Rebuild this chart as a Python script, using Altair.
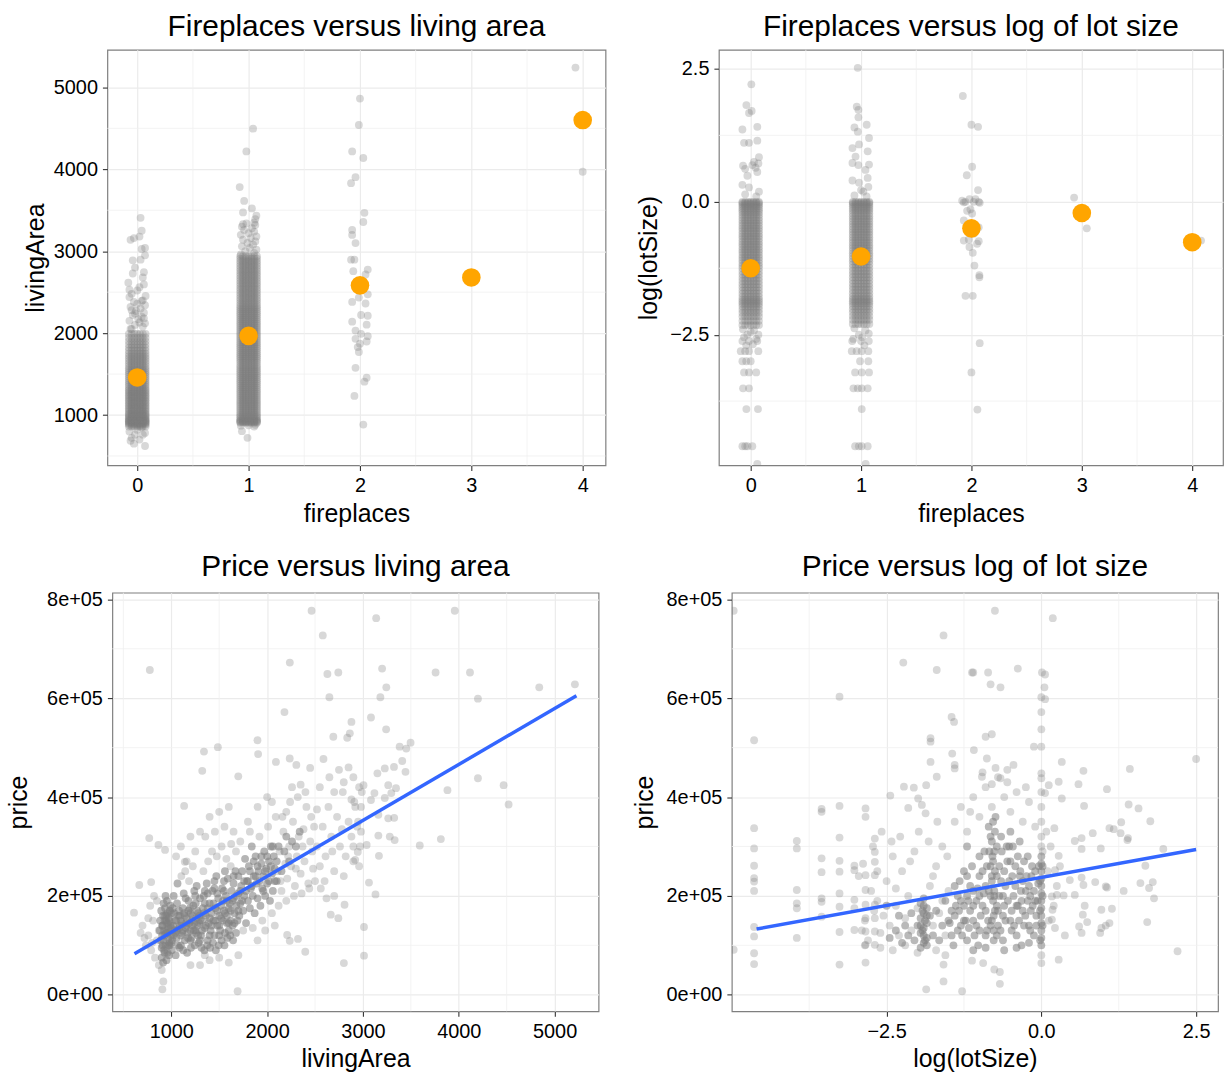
import altair as alt
import pandas as pd

FONT = "Liberation Sans"
GRAY = "#7f7f7f"
ORANGE = "#FFA500"
BLUE = "#3366FF"

# ---------------- tick / grid values ----------------
FP_TICKS = [0, 1, 2, 3, 4]
FP_MINOR = [0.5, 1.5, 2.5, 3.5]
AREA_TICKS = [1000, 2000, 3000, 4000, 5000]
AREA_MINOR = [500, 1500, 2500, 3500, 4500]
LOT_TICKS = [-2.5, 0.0, 2.5]
LOT_MINOR = [-3.75, -1.25, 1.25]
PRICE_TICKS = [0, 200000, 400000, 600000, 800000]
PRICE_MINOR = [100000, 300000, 500000, 700000]

# jitter positions used for the dense columns
BAND_OFFSETS = [-0.075, -0.05, -0.025, 0.0, 0.025, 0.05, 0.075]

# ---------------- Panel A: fireplaces vs living area ----------------
area_core_fp0 = [860, 880, 895, 905, 915, 925, 935, 945, 960, 975, 990, 1005, 1020, 1040,
                 1060, 1080, 1100, 1120, 1140, 1160, 1180, 1200, 1220, 1240, 1260, 1280,
                 1300, 1320, 1345, 1370, 1395, 1420, 1445, 1470, 1495, 1520, 1545, 1570,
                 1600, 1630, 1660, 1690, 1720, 1750, 1785, 1820, 1860, 1900, 1945, 1990]
area_core_fp1 = [905, 915, 925, 935, 950, 970, 990, 1010, 1035, 1060, 1085, 1110, 1135, 1160,
                 1185, 1210, 1235, 1260, 1285, 1310, 1335, 1360, 1385, 1410, 1435, 1460,
                 1485, 1510, 1535, 1560, 1585, 1610, 1640, 1665, 1690, 1715, 1740, 1765,
                 1790, 1815, 1840, 1865, 1890, 1915, 1940, 1965, 1990, 2015, 2040, 2065,
                 2090, 2115, 2140, 2165, 2190, 2215, 2240, 2265, 2290, 2315, 2340, 2370,
                 2400, 2430, 2460, 2490, 2520, 2550, 2580, 2610, 2640, 2670, 2700, 2730,
                 2760, 2790, 2820, 2850, 2880, 2910, 2940]
# (jitter offset, living area)
area_pts_fp0 = [(-0.06, 2050), (0.05, 2080), (-0.02, 2100), (0.07, 2120), (-0.07, 2150),
                (0.01, 2170), (0.04, 2200), (-0.04, 2220), (0.06, 2250), (-0.01, 2270),
                (0.03, 2300), (-0.06, 2320), (0.07, 2340), (0.0, 2360), (-0.03, 2380),
                (0.05, 2400), (-0.07, 2440), (0.04, 2393), (0.075, 2454), (-0.05, 2050),
                (0.02, 2130), (-0.05, 2280), (0.06, 2180), (-0.02, 2240),
                (0.03, 3408), (0.04, 3251), (-0.06, 3139), (-0.03, 3160), (0.02, 3179),
                (0.07, 3039), (0.04, 3027), (-0.04, 2889), (0.03, 2897), (0.06, 2744),
                (-0.04, 2728), (-0.08, 2616), (0.06, 2595), (-0.07, 2530), (0.02, 2560),
                (0.05, 2680), (-0.02, 2800), (0.07, 2950), (-0.05, 2480), (0.0, 2520),
                (-0.05, 722), (0.07, 782), (0.07, 622), (-0.06, 686), (-0.03, 650),
                (0.02, 700), (0.05, 760), (-0.07, 800), (0.0, 820), (0.04, 850), (-0.02, 760)]
area_pts_fp1 = [(-0.07, 2960), (0.05, 2980), (-0.03, 3000), (0.07, 3020), (0.01, 3040),
                (-0.06, 3060), (0.04, 3080), (-0.01, 3100), (0.06, 3120), (-0.05, 3140),
                (0.02, 3160), (0.07, 3180), (-0.07, 3200), (0.0, 3220), (0.05, 3240),
                (-0.04, 3260), (0.03, 3280), (-0.06, 3300), (0.06, 3320), (-0.02, 3340),
                (-0.05, 3329), (0.05, 3348),
                (0.04, 4496), (-0.02, 4218), (-0.08, 3783), (-0.04, 3614), (0.03, 3522),
                (-0.05, 3474), (0.07, 3433), (0.06, 3390),
                (-0.06, 803), (-0.01, 722), (0.06, 880), (-0.07, 870), (0.05, 860), (0.0, 875)]
area_pts_fp2 = [(0.0, 4863), (-0.01, 4541), (-0.07, 4218), (0.03, 4138), (-0.04, 3904),
                (-0.08, 3831), (0.04, 3469), (0.03, 3357), (-0.07, 3260), (-0.07, 3199),
                (-0.04, 3099), (-0.08, 2897), (-0.05, 2897), (-0.06, 2756), (0.07, 2776),
                (0.05, 2716), (0.0, 2570), (0.07, 2474), (0.05, 2362), (-0.07, 2381),
                (-0.01, 2434), (0.01, 2221), (0.07, 2212), (-0.07, 2140), (0.06, 2103),
                (-0.04, 2031), (0.01, 1991), (0.07, 1963), (-0.04, 1930), (0.06, 1898),
                (0.0, 1870), (-0.01, 1770), (-0.02, 1830), (-0.04, 1576), (0.06, 1455),
                (0.04, 1407), (-0.05, 1233), (0.03, 883)]
area_pts_fp3 = [(0.0, 2650), (0.01, 2710)]
area_pts_fp4 = [(-0.065, 5242), (0.0, 3970)]
area_means = [1459, 1967, 2583, 2680, 4601]

# ---------------- Panel B: fireplaces vs log(lotSize) ----------------
lot_core_fp0 = [0.0, -0.02, -0.05, -0.08, -0.12, -0.16, -0.2, -0.25, -0.3, -0.35, -0.4,
                -0.45, -0.5, -0.55, -0.6, -0.65, -0.7, -0.75, -0.8, -0.85, -0.9, -0.95,
                -1.0, -1.05, -1.1, -1.15, -1.2, -1.25, -1.31, -1.37, -1.43, -1.49, -1.55,
                -1.61, -1.67, -1.73, -1.79, -1.84, -1.88, -1.92, -1.97, -2.03, -2.09,
                -2.16, -2.24, -2.32]
lot_core_fp1 = [0.0, -0.02, -0.05, -0.09, -0.13, -0.17, -0.22, -0.27, -0.32, -0.37, -0.42,
                -0.47, -0.52, -0.57, -0.62, -0.67, -0.72, -0.77, -0.82, -0.87, -0.92,
                -0.97, -1.02, -1.07, -1.12, -1.18, -1.24, -1.3, -1.36, -1.42, -1.48,
                -1.54, -1.6, -1.66, -1.72, -1.78, -1.83, -1.87, -1.91, -1.96, -2.02,
                -2.08, -2.15, -2.22, -2.3]
lot_pts_fp0 = [(0.006, 2.21), (-0.039, 1.82), (0.009, 1.71), (-0.015, 1.67), (0.06, 1.41),
               (-0.075, 1.36), (-0.06, 1.11), (-0.015, 1.11), (0.06, 1.15), (0.075, 0.84),
               (-0.069, 0.68), (0.015, 0.69), (0.045, 0.64), (-0.03, 0.49), (0.06, 0.56),
               (-0.075, 0.32), (-0.015, 0.27), (0.075, 0.19), (0.07, 0.72), (-0.05, 0.62),
               (0.03, 0.75), (0.05, 0.1), (-0.05, 0.14),
               (-0.07, -2.4), (0.03, -2.42), (0.07, -2.5), (-0.03, -2.5), (0.0, -2.45),
               (-0.06, -2.55), (0.05, -2.58), (-0.075, -2.62), (-0.015, -2.62), (0.06, -2.62),
               (-0.04, -2.7), (0.02, -2.68), (-0.09, -2.81), (-0.015, -2.81), (0.069, -2.81),
               (-0.05, -2.81), (-0.075, -3.0), (0.0, -3.0), (-0.04, -3.0), (-0.06, -3.21),
               (-0.015, -3.21), (0.05, -3.21), (-0.069, -3.51), (-0.015, -3.51),
               (-0.039, -3.9), (0.066, -3.9), (-0.075, -4.6), (-0.03, -4.6), (0.015, -4.6),
               (-0.05, -4.6), (0.06, -4.93)]
lot_pts_fp1 = [(-0.03, 2.52), (-0.039, 1.79), (-0.024, 1.73), (-0.024, 1.59), (0.051, 1.45),
               (-0.06, 1.40), (-0.03, 1.32), (0.072, 1.20), (-0.078, 1.01), (-0.018, 1.08),
               (0.06, 0.95), (-0.078, 0.73), (-0.024, 0.69), (0.072, 0.70), (-0.078, 0.40),
               (-0.018, 0.36), (0.066, 0.28), (0.021, 0.19), (0.05, 0.1), (-0.06, 0.12),
               (0.0, 0.22), (0.04, 0.6), (-0.05, 0.85), (0.06, 0.45),
               (-0.06, -2.38), (0.04, -2.42), (0.07, -2.48), (-0.02, -2.5), (0.01, -2.55),
               (-0.07, -2.58), (-0.08, -2.62), (0.0, -2.62), (0.07, -2.62), (0.03, -2.7),
               (-0.084, -2.81), (0.006, -2.81), (0.066, -2.81), (-0.04, -2.81),
               (-0.009, -3.0), (0.066, -3.0), (-0.054, -3.21), (0.006, -3.21), (0.072, -3.21),
               (-0.069, -3.51), (0.006, -3.51), (0.06, -3.51), (-0.03, -3.51), (0.006, -3.9),
               (-0.054, -4.6), (0.006, -4.6), (0.06, -4.6), (-0.02, -4.6), (0.042, -4.93)]
lot_pts_fp2 = [(-0.078, 1.99), (0.0, 1.45), (0.06, 1.41), (0.006, 0.66), (-0.042, 0.50),
               (0.06, 0.22), (-0.084, 0.02), (-0.054, 0.0), (-0.018, 0.05), (0.021, 0.0),
               (0.066, 0.0), (0.075, -0.02), (0.036, 0.05), (-0.069, -0.01), (-0.039, -0.17),
               (0.006, -0.22), (-0.009, -0.14), (-0.069, -0.35), (0.066, -0.48), (0.0, -0.5),
               (0.02, -0.6), (-0.069, -0.73), (-0.024, -0.71), (0.066, -0.74), (0.051, -0.79),
               (-0.018, -0.85), (0.012, -0.96), (0.027, -1.20), (0.072, -1.38), (0.072, -1.42),
               (-0.054, -1.77), (0.012, -1.77), (0.075, -2.66), (0.0, -3.21), (0.054, -3.91)]
lot_pts_fp3 = [(-0.07, 0.08), (0.045, -0.50)]
lot_pts_fp4 = [(0.08, -0.73), (0.0, -0.79)]
lot_means = [-1.25, -1.03, -0.50, -0.21, -0.76]

# ---------------- Panel C: price vs living area ----------------
# (living area, price in thousands)
pa_core = [(900, 95), (905, 120), (910, 140), (915, 160), (920, 110), (925, 130), (930, 150),
           (935, 175), (940, 100), (945, 125), (950, 145), (955, 190), (960, 85), (965, 115),
           (970, 135), (975, 155), (980, 105), (985, 170), (990, 140), (995, 120), (900, 75),
           (915, 65), (930, 85), (950, 70), (975, 80), (920, 185), (940, 200), (960, 165),
           (880, 130), (885, 150), (890, 110), (895, 170), (905, 140), (910, 100), (925, 90),
           (935, 160), (945, 150), (955, 130), (965, 145), (985, 100),
           (1010, 110), (1020, 140), (1030, 165), (1040, 125), (1050, 150), (1060, 185),
           (1070, 100), (1080, 135), (1090, 160), (1100, 120), (1110, 145), (1120, 175),
           (1130, 205), (1140, 110), (1150, 135), (1160, 155), (1170, 125), (1180, 190),
           (1190, 145), (1200, 165), (1210, 115), (1220, 140), (1230, 180), (1240, 210),
           (1250, 130), (1260, 155), (1270, 170), (1280, 120), (1290, 145), (1300, 195),
           (1005, 90), (1025, 200), (1045, 80), (1065, 225), (1085, 95), (1125, 90),
           (1165, 85), (1205, 95), (1245, 100), (1265, 220), (1285, 105), (1015, 175),
           (1035, 130), (1055, 115), (1075, 160), (1095, 140), (1115, 125), (1135, 165),
           (1155, 145), (1175, 115), (1195, 175), (1215, 150), (1235, 130), (1255, 185),
           (1275, 140), (1295, 160),
           (1310, 120), (1320, 150), (1330, 175), (1340, 200), (1350, 135), (1360, 160),
           (1370, 225), (1380, 110), (1390, 145), (1400, 185), (1410, 130), (1420, 165),
           (1430, 210), (1440, 150), (1450, 120), (1460, 175), (1470, 240), (1480, 140),
           (1490, 195), (1500, 160), (1510, 130), (1520, 180), (1530, 215), (1540, 150),
           (1550, 170), (1560, 125), (1570, 200), (1580, 160), (1590, 235), (1600, 145),
           (1610, 185), (1620, 170), (1630, 210), (1640, 140), (1650, 195), (1660, 165),
           (1670, 250), (1680, 180), (1690, 150), (1700, 205), (1315, 95), (1345, 90),
           (1375, 100), (1405, 95), (1435, 105), (1465, 90), (1495, 100), (1525, 110),
           (1555, 100), (1585, 115), (1615, 120), (1645, 110), (1675, 125), (1450, 215),
           (1350, 185), (1550, 230), (1650, 225), (1700, 240), (1560, 250), (1380, 205),
           (1480, 205), (1580, 190),
           (1710, 160), (1720, 185), (1730, 220), (1740, 250), (1750, 170), (1760, 200),
           (1770, 275), (1780, 145), (1790, 230), (1800, 190), (1810, 260), (1820, 175),
           (1830, 215), (1840, 300), (1850, 200), (1860, 240), (1870, 165), (1880, 280),
           (1890, 225), (1900, 195), (1910, 250), (1930, 180), (1940, 265), (1950, 215),
           (1960, 240), (1970, 290), (1980, 200), (1990, 255), (2000, 225), (2020, 270),
           (2030, 190), (2040, 300), (2050, 245), (2060, 210), (2070, 280), (2080, 255),
           (2100, 230),
           (960, 125), (980, 150), (1000, 135), (1000, 165), (1020, 120), (1040, 150),
           (1060, 130), (1080, 170), (1100, 150), (1120, 130), (1140, 160), (1160, 140),
           (1180, 170), (1200, 130), (1220, 160), (1240, 145), (1260, 125), (1280, 165),
           (1300, 150), (1320, 130), (1340, 165), (1360, 140), (1380, 175), (1400, 155),
           (1420, 140), (1440, 185), (1460, 150), (1480, 170), (1500, 140), (1520, 155),
           (1540, 190), (1560, 165), (1580, 145), (1600, 175), (1620, 150), (1640, 190),
           (1660, 145), (1680, 200), (1700, 170), (1720, 210), (1740, 190), (1760, 230),
           (1780, 210), (1800, 230), (1820, 250), (1840, 220), (1860, 270), (1880, 240),
           (1900, 260), (1920, 230), (1940, 280), (1960, 210), (1980, 250), (2000, 280),
           (2020, 230), (2040, 260), (2060, 300), (2080, 230), (2100, 270), (2120, 300),
           (2150, 250), (2180, 290), (2200, 320), (2230, 270), (2260, 310), (2300, 300),
           (2340, 330), (1000, 105), (1100, 100), (1200, 110), (1300, 110), (1400, 120),
           (1500, 120), (1600, 130), (930, 120), (950, 160), (970, 100), (990, 180),
           (1150, 195), (1250, 200), (1350, 210), (1450, 230), (1550, 210), (1650, 240)]
pa_pts = [(700, 140), (735, 100), (760, 120), (790, 90), (810, 150), (830, 75), (850, 110),
          (870, 130), (720, 115), (680, 125), (760, 155), (800, 105), (611, 166), (666, 222),
          (790, 228), (776, 657), (770, 317), (866, 303), (935, 293), (900, 50), (917, 27),
          (907, 11), (850, 190), (820, 200), (870, 60), (780, 180),
          (1105, 240), (1145, 250), (1185, 230), (1225, 260), (1141, 269), (1050, 280),
          (1100, 300), (1160, 270), (1200, 320), (1250, 290), (1300, 330), (1335, 250),
          (1385, 270), (1425, 290), (1475, 280), (1525, 300), (1575, 275), (1625, 305),
          (1675, 290), (1355, 320), (1455, 330), (1555, 340), (1650, 330), (1400, 360),
          (1500, 370), (1600, 380), (1620, 260), (1134, 382), (1486, 501), (1341, 492),
          (1323, 453), (1699, 442), (1400, 70), (1500, 75), (1600, 65), (1700, 80),
          (1300, 60), (1200, 60), (1350, 80), (1692, 7),
          (1750, 130), (1850, 135), (1950, 150), (2050, 165), (1800, 350), (1900, 380),
          (2000, 400), (1720, 310), (1820, 330), (1980, 130), (2080, 140), (1900, 110),
          (2050, 390), (1920, 320), (2010, 340), (2090, 360), (1899, 515), (1906, 487),
          (2110, 250), (2130, 290), (2150, 210), (2170, 330), (2190, 265), (2210, 235),
          (2230, 300), (2250, 260), (2270, 350), (2290, 220), (2310, 280), (2330, 320),
          (2350, 245), (2370, 300), (2390, 270), (2410, 380), (2430, 225), (2450, 310),
          (2470, 290), (2490, 340), (2120, 180), (2200, 190), (2280, 200), (2360, 205),
          (2440, 215), (2160, 360), (2240, 390), (2320, 400), (2400, 410), (2480, 255),
          (2140, 230), (2220, 280), (2300, 255), (2380, 335), (2460, 360), (2500, 230),
          (2260, 420), (2350, 425), (2200, 370),
          (2520, 300), (2550, 260), (2580, 340), (2610, 280), (2640, 380), (2670, 320),
          (2700, 250), (2730, 360), (2760, 300), (2790, 410), (2820, 280), (2850, 350),
          (2880, 320), (2910, 390), (2940, 340), (2970, 300), (2550, 420), (2650, 440),
          (2750, 455), (2850, 460), (2600, 230), (2700, 200), (2800, 240), (2900, 270),
          (2620, 195), (2560, 215), (2680, 290), (2780, 335), (2880, 395), (2980, 380),
          (2520, 375), (2960, 420), (2900, 440), (2800, 430), (2700, 410),
          (2464, 777), (2581, 727), (2237, 672), (2629, 649), (2743, 652), (2650, 602),
          (2181, 572), (2880, 552), (2863, 529), (2836, 520), (2691, 522), (2092, 471),
          (2236, 478), (2305, 465), (2449, 459), (2588, 477), (2801, 64), (2398, 87),
          (2236, 109), (2322, 113), (2209, 121), (2808, 182), (2743, 155), (2664, 162),
          (3138, 762), (3958, 777), (3200, 660), (3244, 622), (3182, 602), (3758, 652),
          (4117, 652), (4840, 622), (5212, 628), (4200, 599), (3084, 561), (3242, 537),
          (3383, 502), (3452, 498), (3497, 510), (3410, 473), (3324, 461), (3444, 451),
          (3228, 458), (3151, 448), (4200, 438), (4468, 424), (4520, 385), (3882, 414),
          (3345, 418), (3264, 424), (3296, 408), (3228, 398), (3120, 408), (3084, 394),
          (3006, 424), (2988, 410), (3326, 358), (3264, 357), (3161, 364), (3280, 320),
          (3331, 313), (3161, 322), (3593, 302), (3813, 315), (3167, 281), (3039, 303),
          (2946, 289), (2919, 273), (3063, 227), (3131, 203), (3011, 137), (3011, 79),
          (2950, 350), (2920, 380), (2980, 330), (2900, 300), (2960, 260)]
fit_area = [616, 5228]
fit_area_price = [83100, 604800]

# ---------------- Panel D: price vs log(lotSize) ----------------
# (log lot size, price in thousands)
pl_core = [(-1.95, 95), (-1.9, 105), (-1.85, 115), (-1.95, 125), (-1.9, 135), (-1.85, 145),
           (-1.95, 155), (-1.9, 165), (-1.85, 175), (-1.95, 185), (-1.9, 195), (-1.85, 100),
           (-1.9, 120), (-1.95, 140), (-1.85, 160), (-1.9, 180), (-1.88, 110), (-1.92, 130),
           (-1.88, 150), (-1.92, 170),
           (0.0, 100), (0.0, 115), (0.0, 130), (0.0, 145), (0.0, 160), (0.0, 175), (0.0, 190),
           (0.0, 205), (0.0, 220), (0.0, 235), (0.0, 250), (0.0, 265), (0.0, 280),
           (-0.02, 110), (-0.02, 170), (-0.02, 230), (0.02, 140), (0.02, 200), (0.02, 260),
           (-0.77, 110), (-0.77, 130), (-0.8, 150), (-0.75, 170), (-0.78, 190), (-0.76, 210),
           (-0.8, 230), (-0.75, 250), (-0.78, 270), (-0.76, 290), (-0.8, 310), (-0.75, 330),
           (-0.72, 120), (-0.82, 140), (-0.72, 180), (-0.82, 200), (-0.72, 240), (-0.82, 260),
           (-0.72, 300), (-0.82, 320),
           (-1.45, 120), (-1.4, 160), (-1.35, 200), (-1.3, 140), (-1.25, 180), (-1.2, 110),
           (-1.15, 220), (-1.1, 150), (-1.05, 190), (-1.0, 130), (-0.95, 250), (-0.9, 170),
           (-0.85, 210), (-0.7, 140), (-0.65, 230), (-0.6, 180), (-0.55, 270), (-0.5, 150),
           (-0.45, 200), (-0.4, 120), (-0.35, 240), (-0.3, 170), (-0.25, 210), (-0.2, 140),
           (-0.15, 260), (-0.1, 190), (-1.42, 100), (-1.32, 230), (-1.22, 150), (-1.12, 260),
           (-1.02, 100), (-0.92, 290), (-0.62, 110), (-0.52, 300), (-0.42, 260), (-0.32, 100),
           (-0.22, 280), (-0.12, 120), (-1.38, 180), (-1.28, 120), (-1.18, 190), (-1.08, 120),
           (-0.98, 160), (-0.88, 130), (-0.68, 200), (-0.58, 220), (-0.48, 130), (-0.38, 180),
           (-0.28, 140), (-0.18, 200), (-0.08, 160), (-1.48, 145), (-1.33, 170), (-1.17, 135),
           (-1.03, 215), (-0.93, 205), (-0.62, 160), (-0.47, 240), (-0.33, 210), (-0.17, 170),
           (-0.05, 225), (-1.25, 250), (-1.1, 90), (-0.9, 95), (-0.6, 90), (-0.4, 95),
           (-0.2, 105), (-1.0, 280), (-0.85, 340), (-0.65, 320), (-0.5, 330), (-0.35, 310),
           (-1.2, 300),
           (-1.3, 190), (-1.25, 150), (-1.2, 240), (-1.15, 170), (-1.1, 210), (-1.05, 140),
           (-1.0, 240), (-0.95, 180), (-0.9, 220), (-0.88, 260), (-0.86, 150), (-0.84, 290),
           (-0.7, 170), (-0.68, 260), (-0.66, 130), (-0.64, 290), (-0.62, 200), (-0.6, 250),
           (-0.58, 150), (-0.56, 300), (-0.54, 190), (-0.52, 230), (-0.5, 270), (-0.48, 170),
           (-0.46, 300), (-0.44, 140), (-0.42, 220), (-0.4, 180), (-0.38, 280), (-0.36, 150),
           (-0.34, 250), (-0.32, 190), (-0.3, 230), (-0.28, 270), (-0.26, 160), (-0.24, 240),
           (-0.22, 190), (-0.2, 220), (-0.18, 130), (-0.16, 240), (-0.14, 180), (-0.12, 210),
           (-0.1, 250), (-0.08, 140), (-0.06, 190), (-0.04, 260), (-0.9, 120), (-1.0, 200),
           (-1.1, 180), (-1.2, 200), (-1.35, 130), (-1.4, 220), (-1.45, 170), (-1.5, 150),
           (-1.55, 190), (-1.6, 140), (-1.65, 110), (-1.7, 170), (-1.75, 120), (-1.8, 160),
           (-2.0, 140), (-2.05, 110), (-2.1, 165), (-2.15, 120), (-2.2, 140), (-2.25, 105),
           (-2.3, 160), (-2.35, 130), (-2.45, 115), (-2.5, 180), (-0.78, 350), (-0.74, 360),
           (-0.8, 240), (-0.76, 200), (-0.79, 280), (-0.77, 160)]
pl_pts = [(-2.9, 130), (-2.85, 150), (-2.8, 110), (-2.75, 210), (-2.7, 170), (-2.65, 190),
          (-2.6, 125), (-2.55, 160), (-2.5, 230), (-2.45, 140), (-2.4, 280), (-2.35, 180),
          (-2.3, 120), (-2.25, 250), (-2.2, 155), (-2.15, 200), (-2.1, 130), (-2.05, 290),
          (-2.0, 175), (-1.8, 220), (-1.75, 140), (-1.7, 260), (-1.65, 165), (-1.6, 300),
          (-1.55, 120), (-1.5, 210), (-2.95, 240), (-2.88, 265), (-2.72, 300), (-2.58, 330),
          (-2.42, 310), (-2.28, 320), (-2.12, 270), (-1.98, 330), (-1.82, 310), (-1.68, 350),
          (-1.52, 280), (-2.6, 95), (-2.4, 90), (-2.2, 100), (-2.0, 85), (-1.7, 90),
          (-1.55, 80), (-2.85, 100), (-2.65, 250), (-2.35, 215), (-1.6, 190), (-1.75, 240),
          (-1.4, 350), (-1.3, 380), (-1.2, 330), (-1.1, 400), (-1.0, 360), (-0.9, 420),
          (-0.8, 380), (-0.7, 440), (-0.6, 400), (-0.5, 370), (-0.4, 410), (-0.3, 350),
          (-0.2, 390), (-0.1, 340), (-0.95, 450), (-0.55, 430), (-0.25, 420), (-1.15, 370),
          (0.1, 250), (0.15, 300), (0.2, 180), (0.25, 220), (0.08, 330), (0.3, 260), (0.12, 150),
          (-4.97, 777), (-4.97, 91), (-4.64, 515), (-4.64, 337), (-4.64, 296), (-4.64, 261),
          (-4.64, 236), (-4.64, 229), (-4.64, 210), (-4.64, 137), (-4.64, 118), (-4.64, 84),
          (-4.64, 62), (-3.95, 311), (-3.95, 296), (-3.95, 212), (-3.95, 185), (-3.95, 175),
          (-3.95, 115), (-3.55, 376), (-3.55, 370), (-3.55, 276), (-3.55, 248), (-3.55, 195),
          (-3.55, 188), (-3.55, 158), (-3.26, 603), (-3.26, 382), (-3.26, 318), (-3.26, 271),
          (-3.26, 249), (-3.26, 205), (-3.26, 178), (-3.26, 127), (-3.26, 61), (-3.02, 261),
          (-3.02, 252), (-3.02, 192), (-3.02, 175), (-3.02, 131), (-2.84, 377), (-2.84, 360),
          (-2.69, 316), (-2.69, 289), (-2.69, 269), (-2.84, 242), (-2.69, 242), (-2.84, 212),
          (-2.84, 182), (-2.69, 182), (-2.84, 155), (-2.69, 155), (-2.84, 128), (-2.69, 128),
          (-2.84, 101), (-2.69, 101), (-2.84, 65), (-2.44, 403), (-2.22, 421), (-2.06, 419),
          (-1.86, 424), (-1.99, 397), (-2.15, 378), (-1.93, 384), (-1.87, 367), (-2.23, 672),
          (-1.79, 519), (-1.79, 512), (-1.79, 471), (-1.69, 441), (-1.69, 657), (-1.58, 727),
          (-1.45, 562), (-1.41, 552), (-1.44, 488), (-1.40, 465), (-1.40, 458), (-1.12, 652),
          (-1.86, 11), (-1.58, 27), (-1.28, 7), (-1.58, 61),
          (-0.75, 777), (0.185, 762), (-1.10, 652), (-0.86, 652), (-0.38, 660), (-0.82, 628),
          (-0.66, 622), (0.01, 652), (0.06, 648), (0.05, 622), (0.0, 602), (0.06, 598),
          (0.0, 572), (0.0, 537), (-0.12, 502), (0.0, 502), (-0.90, 522), (-0.8, 527),
          (-1.09, 495), (-0.88, 478), (-0.74, 459), (-0.45, 465), (-0.55, 455), (-0.66, 438),
          (-0.80, 426), (-0.96, 441), (0.33, 471), (0.68, 453), (1.43, 457), (0.60, 426),
          (1.06, 416), (0.12, 424), (0.0, 448), (0.0, 438), (0.06, 408), (0.33, 397),
          (0.28, 431), (0.69, 382), (1.41, 385), (1.57, 377), (1.76, 351), (1.10, 337),
          (1.17, 335), (1.29, 349), (1.28, 327), (1.40, 317), (1.39, 313), (0.21, 337),
          (0.83, 327), (0.96, 296), (0.54, 311), (0.65, 317), (0.65, 295), (0.28, 281),
          (0.22, 252), (0.46, 232), (0.65, 237), (0.68, 222), (0.87, 228), (1.04, 219),
          (1.06, 217), (1.33, 210), (1.60, 226), (1.74, 216), (1.80, 228), (1.82, 195),
          (1.68, 261), (1.97, 295), (0.17, 199), (0.25, 202), (0.36, 201), (0.54, 202),
          (0.18, 172), (0.70, 180), (0.67, 162), (0.97, 172), (1.14, 174), (1.10, 145),
          (1.04, 140), (0.97, 135), (0.65, 125), (0.61, 138), (0.74, 147), (0.38, 120),
          (1.71, 147), (0.95, 125), (0.17, 152), (0.22, 135), (0.28, 71), (2.20, 88),
          (2.5, 477), (-0.76, 51), (-0.67, 46), (-0.67, 22), (-0.94, 64), (-1.12, 69),
          (0.0, 80), (0.0, 64), (0.0, 300), (0.0, 320), (0.0, 350), (0.0, 380), (0.0, 410),
          (0.02, 290)]
fit_lot = [-4.6, 2.5]
fit_lot_price = [133000, 294000]


# ---------------- tables ----------------
def jitter_table(groups):
    rows = []
    for fp, pts in groups:
        for off, val in pts:
            rows.append({"x": fp + off, "y": val})
    return pd.DataFrame(rows)


def band_table(groups):
    rows = []
    for fp, vals in groups:
        for val in vals:
            for off in BAND_OFFSETS:
                rows.append({"x": fp + off, "y": val})
    return pd.DataFrame(rows)


def pair_table(pairs, yscale=1000):
    return pd.DataFrame({"x": [p[0] for p in pairs], "y": [p[1] * yscale for p in pairs]})


A_core = band_table([(0, area_core_fp0), (1, area_core_fp1)])
A_pts = jitter_table([(0, area_pts_fp0), (1, area_pts_fp1), (2, area_pts_fp2),
                      (3, area_pts_fp3), (4, area_pts_fp4)])
A_mean = pd.DataFrame({"x": FP_TICKS, "y": area_means})

B_core = band_table([(0, lot_core_fp0), (1, lot_core_fp1)])
B_pts = jitter_table([(0, lot_pts_fp0), (1, lot_pts_fp1), (2, lot_pts_fp2),
                      (3, lot_pts_fp3), (4, lot_pts_fp4)])
B_mean = pd.DataFrame({"x": FP_TICKS, "y": lot_means})

C_core = pair_table(pa_core)
C_pts = pair_table(pa_pts)
C_fit = pd.DataFrame({"x": fit_area, "y": fit_area_price})

D_core = pair_table(pl_core)
D_pts = pair_table(pl_pts)
D_fit = pd.DataFrame({"x": fit_lot, "y": fit_lot_price})


# ---------------- helpers ----------------
def make_axis(title, values, fmt=None, label_expr=None, title_pad=6):
    kw = dict(title=title, values=values, grid=True, gridColor="#ebebeb", gridWidth=1.2,
              domain=False, ticks=True, tickColor="#333333", tickSize=5, tickWidth=1.1,
              labelFont=FONT, labelFontSize=20, labelColor="#000000", labelPadding=5,
              labelFlush=False, labelOverlap=False,
              titleFont=FONT, titleFontSize=25, titleFontWeight="normal",
              titleColor="#000000", titlePadding=title_pad)
    if fmt is not None:
        kw["format"] = fmt
    if label_expr is not None:
        kw["labelExpr"] = label_expr
    return alt.Axis(**kw)


def panel(title, xenc, yenc, xminor, yminor, layers, w, h):
    mx = alt.Chart(pd.DataFrame({"x": xminor})).mark_rule(
        color="#f0f0f0", strokeWidth=0.8).encode(x=xenc)
    my = alt.Chart(pd.DataFrame({"y": yminor})).mark_rule(
        color="#f0f0f0", strokeWidth=0.8).encode(y=yenc)
    return alt.layer(mx, my, *layers).properties(
        width=w, height=h,
        title=alt.TitleParams(title, font=FONT, fontSize=30, fontWeight="normal",
                              color="#000000", anchor="middle", frame="group",
                              baseline="top", offset=7))


def gray_points(df, xenc, yenc, opacity=0.3):
    return alt.Chart(df).mark_circle(size=62, color=GRAY, opacity=opacity, clip=True).encode(
        x=xenc, y=yenc)


PRICE_LABELS = "datum.value == 0 ? '0e+00' : format(datum.value / 100000, 'd') + 'e+05'"

# Panel A
xA = alt.X("x:Q", scale=alt.Scale(domain=[-0.268, 4.205], nice=False, zero=False),
           axis=make_axis("fireplaces", FP_TICKS, fmt="d"))
yA = alt.Y("y:Q", scale=alt.Scale(domain=[385, 5459], nice=False, zero=False),
           axis=make_axis("livingArea", AREA_TICKS, fmt="d", title_pad=5))
chartA = panel("Fireplaces versus living area", xA, yA, FP_MINOR, AREA_MINOR, [
    gray_points(A_core, xA, yA),
    gray_points(A_pts, xA, yA),
    alt.Chart(A_mean).mark_circle(size=350, color=ORANGE, opacity=1).encode(x=xA, y=yA),
], 501, 418)

# Panel B
xB = alt.X("x:Q", scale=alt.Scale(domain=[-0.288, 4.279], nice=False, zero=False),
           axis=make_axis("fireplaces", FP_TICKS, fmt="d"))
yB = alt.Y("y:Q", scale=alt.Scale(domain=[-4.96, 2.86], nice=False, zero=False),
           axis=make_axis("log(lotSize)", LOT_TICKS, fmt=".1f", title_pad=8))
chartB = panel("Fireplaces versus log of lot size", xB, yB, FP_MINOR, LOT_MINOR, [
    gray_points(B_core, xB, yB),
    gray_points(B_pts, xB, yB),
    alt.Chart(B_mean).mark_circle(size=350, color=ORANGE, opacity=1).encode(x=xB, y=yB),
], 507, 418)

# Panel C
xC = alt.X("x:Q", scale=alt.Scale(domain=[385, 5459], nice=False, zero=False),
           axis=make_axis("livingArea", AREA_TICKS, fmt="d"))
yC = alt.Y("y:Q", scale=alt.Scale(domain=[-33500, 813500], nice=False, zero=False),
           axis=make_axis("price", PRICE_TICKS, label_expr=PRICE_LABELS, title_pad=15))
chartC = panel("Price versus living area", xC, yC, AREA_MINOR, PRICE_MINOR, [
    gray_points(C_core, xC, yC, opacity=0.58),
    gray_points(C_pts, xC, yC),
    alt.Chart(C_fit).mark_line(color=BLUE, strokeWidth=3.5).encode(x=xC, y=yC),
], 489, 421)

# Panel D
xD = alt.X("x:Q", scale=alt.Scale(domain=[-5.0, 2.854], nice=False, zero=False),
           axis=make_axis("log(lotSize)", LOT_TICKS, fmt=".1f"))
yD = alt.Y("y:Q", scale=alt.Scale(domain=[-33500, 813500], nice=False, zero=False),
           axis=make_axis("price", PRICE_TICKS, label_expr=PRICE_LABELS, title_pad=9))
chartD = panel("Price versus log of lot size", xD, yD, LOT_MINOR, PRICE_MINOR, [
    gray_points(D_core, xD, yD, opacity=0.55),
    gray_points(D_pts, xD, yD),
    alt.Chart(D_fit).mark_line(color=BLUE, strokeWidth=3.5).encode(x=xD, y=yD),
], 489, 421)

row1 = alt.hconcat(chartA, chartB, spacing=29)
row2 = alt.hconcat(chartC, chartD, spacing=32)
chart = alt.vconcat(row1, row2, spacing=25, center=True).properties(
    padding={"left": 6, "top": 9, "right": 0, "bottom": 0},
    background="#ffffff",
).configure_view(stroke="#7f7f7f", strokeWidth=1.2)

chart.save("out.html", embed_options={"renderer": "svg", "actions": False})
